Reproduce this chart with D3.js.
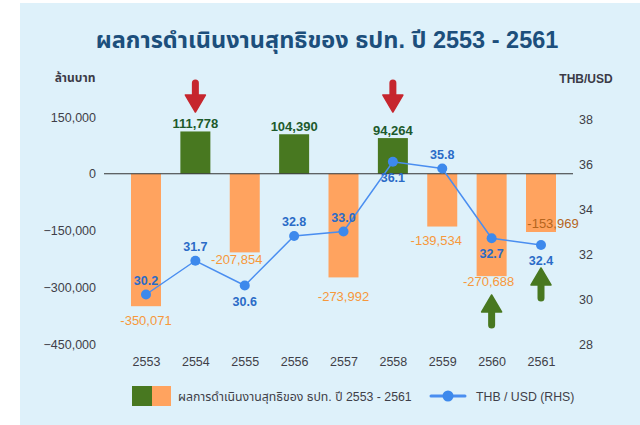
<!DOCTYPE html>
<html>
<head>
<meta charset="utf-8">
<script src="https://cdn.jsdelivr.net/npm/d3@7"></script>
<style>
  body { margin: 0; background: #fff; }
  svg text { font-family: "Liberation Sans", "Noto Sans Thai", "Noto Sans", sans-serif; }
</style>
</head>
<body>
<div id="chart"></div>
<script>
// data
const years = ["2553", "2554", "2555", "2556", "2557", "2558", "2559", "2560", "2561"];
const netResult = [-350071, 111778, -207854, 104390, -273992, 94264, -139534, -270688, -153969];
const thbUsd = [30.2, 31.7, 30.6, 32.8, 33.0, 36.1, 35.8, 32.7, 32.4];
const leftTicks = [150000, 0, -150000, -300000, -450000];
const rightTicks = [28, 30, 32, 34, 36, 38];
// where the rate labels sit relative to their point
const rateLabelSide = ["up", "up", "down", "up", "up", "down", "up", "down", "down"];
// manual nudges of the negative bar labels (dx, dy from bar bottom)
const barLabelNudge = [[0, 19], [-8, 12], [0, 24], [-6, 18], [-3, 10], [12, -4]];
// arrows: year, direction
const arrows = [["2554", "down"], ["2558", "down"], ["2560", "up"], ["2561", "up"]];

const W = 640, H = 425;
const svg = d3.select("#chart").append("svg")
  .attr("width", W).attr("height", H);

// light blue panel
svg.append("rect")
  .attr("x", 20).attr("y", 3)
  .attr("width", W - 20).attr("height", H - 3)
  .attr("fill", "#def1fa");

svg.append("text")
  .attr("x", 327).attr("y", 48)
  .attr("text-anchor", "middle")
  .style("font-size", "23.5px").style("font-weight", "bold")
  .attr("fill", "#1c4f7c")
  .text("ผลการดำเนินงานสุทธิของ ธปท. ปี 2553 - 2561");

const x = d3.scalePoint().domain(years).range([146, 541]);
const yL = d3.scaleLinear().domain([-450000, 150000]).range([344, 117]);
const yR = d3.scaleLinear().domain([28, 38]).range([344, 119]);
const barW = 30;

// axis titles
svg.append("text").attr("x", 75).attr("y", 82).attr("text-anchor", "middle")
  .style("font-size", "12px").style("font-weight", "bold").attr("fill", "#3b3a46")
  .text("ล้านบาท");
svg.append("text").attr("x", 586).attr("y", 83).attr("text-anchor", "middle")
  .style("font-size", "12px").style("font-weight", "bold").attr("fill", "#3b3a46")
  .text("THB/USD");

// left axis
const gl = svg.append("g").attr("transform", "translate(96,0)")
  .call(d3.axisLeft(yL).tickValues(leftTicks).tickSize(0).tickPadding(0)
    .tickFormat(d3.format(",")));
gl.select(".domain").remove();
gl.selectAll("text").style("font-size", "12.5px").attr("fill", "#3f3f48");

// right axis
const gr = svg.append("g").attr("transform", "translate(579,0)")
  .call(d3.axisRight(yR).tickValues(rightTicks).tickSize(0).tickPadding(0));
gr.select(".domain").remove();
gr.selectAll("text").style("font-size", "12.5px").attr("fill", "#3f3f48");

// x axis labels
const gx = svg.append("g").attr("transform", "translate(0,357)")
  .call(d3.axisBottom(x).tickSize(0).tickPadding(0));
gx.select(".domain").remove();
gx.selectAll("text").style("font-size", "12.5px").attr("fill", "#3f3f48");

// bars
const bars = years.map((y, i) => ({ year: y, v: netResult[i] }));
svg.selectAll("rect.bar")
  .data(bars)
  .enter().append("rect")
  .attr("class", "bar")
  .attr("x", d => x(d.year) - barW / 2)
  .attr("width", barW)
  .attr("y", d => yL(Math.max(0, d.v)))
  .attr("height", d => Math.abs(yL(d.v) - yL(0)))
  .attr("fill", d => d.v >= 0 ? "#487820" : "#ffa35f");

// zero line
svg.append("line")
  .attr("x1", 104).attr("x2", 573)
  .attr("y1", yL(0)).attr("y2", yL(0))
  .attr("stroke", "#333").attr("stroke-width", 1);

// bar value labels
const fmt = d3.format(",");
let ni = 0;
bars.forEach((d, i) => {
  let tx = x(d.year), ty, col;
  if (d.v >= 0) {
    ty = yL(d.v) - 3;
    col = "#1d5a2c";
  } else {
    const n = barLabelNudge[ni++];
    tx += n[0];
    ty = yL(d.v) + n[1];
    col = i === years.length - 1 ? "#b5651d" : "#f7983b";
  }
  svg.append("text")
    .attr("x", tx).attr("y", ty)
    .attr("text-anchor", "middle")
    .style("font-size", "13px").style("font-weight", d.v >= 0 ? "bold" : "normal")
    .attr("fill", col)
    .text(fmt(d.v).replace("−", "-"));
});

// arrows
arrows.forEach(([yr, dir]) => {
  const cx = x(yr);
  const i = years.indexOf(yr);
  let tip, tail, color;
  if (dir === "down") {
    tail = 80; tip = 112; color = "#c6262e";
  } else {
    tip = i === 7 ? 295 : 268;
    tail = tip + 33; color = "#487820";
  }
  const s = dir === "down" ? 1 : -1;
  const head = 17;
  const g = svg.append("g");
  g.append("line")
    .attr("x1", cx).attr("x2", cx)
    .attr("y1", tail + s * 3).attr("y2", tip - s * head + s * 2)
    .attr("stroke", color).attr("stroke-width", 7).attr("stroke-linecap", "round");
  g.append("path")
    .attr("d", `M${cx - 10},${tip - s * head} L${cx + 10},${tip - s * head} L${cx},${tip} Z`)
    .attr("fill", color).attr("stroke", color).attr("stroke-width", 1.5)
    .attr("stroke-linejoin", "round");
});

// rate line
const line = d3.line().x((d, i) => x(years[i])).y(d => yR(d));
svg.append("path")
  .datum(thbUsd)
  .attr("d", line)
  .attr("fill", "none")
  .attr("stroke", "#4a8ef0")
  .attr("stroke-width", 1.5);
svg.selectAll("circle.pt")
  .data(thbUsd)
  .enter().append("circle")
  .attr("class", "pt")
  .attr("cx", (d, i) => x(years[i]))
  .attr("cy", d => yR(d))
  .attr("r", 5)
  .attr("fill", "#3d89ec");
svg.selectAll("text.rate")
  .data(thbUsd)
  .enter().append("text")
  .attr("class", "rate")
  .attr("x", (d, i) => x(years[i]))
  .attr("y", (d, i) => yR(d) + (rateLabelSide[i] === "up" ? -10 : 20))
  .attr("text-anchor", "middle")
  .style("font-size", "12.5px").style("font-weight", "bold")
  .attr("fill", "#2a6bc7")
  .text(d => d.toFixed(1));

// legend
const lg = svg.append("g");
lg.append("rect").attr("x", 132).attr("y", 386).attr("width", 20).attr("height", 20).attr("fill", "#487820");
lg.append("rect").attr("x", 152).attr("y", 386).attr("width", 19).attr("height", 20).attr("fill", "#ffa35f");
lg.append("text").attr("x", 178).attr("y", 401)
  .style("font-size", "12.3px").attr("fill", "#3f3f48")
  .text("ผลการดำเนินงานสุทธิของ ธปท. ปี 2553 - 2561");
lg.append("line").attr("x1", 431).attr("x2", 465).attr("y1", 396).attr("y2", 396)
  .attr("stroke", "#4a8ef0").attr("stroke-width", 3).attr("stroke-linecap", "round");
lg.append("circle").attr("cx", 448).attr("cy", 396).attr("r", 5.5).attr("fill", "#3d89ec");
lg.append("text").attr("x", 476).attr("y", 401)
  .style("font-size", "12.3px").attr("fill", "#3f3f48")
  .text("THB / USD (RHS)");
</script>
</body>
</html>
